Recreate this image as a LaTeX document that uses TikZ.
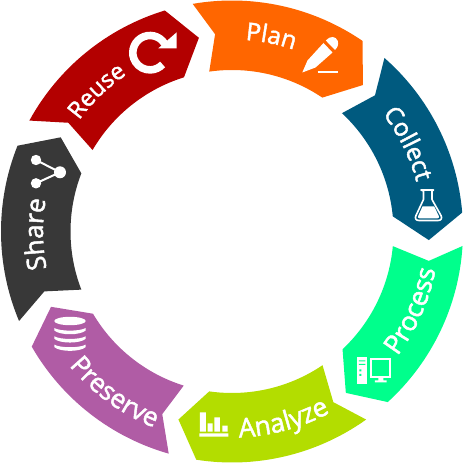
\documentclass[tikz,border=0pt]{standalone}
\usepackage{fontspec}
\setmainfont{Open Sans}
\newfontfamily\labfam[FakeBold=1.8]{Open Sans}
\usetikzlibrary{decorations.text}
\definecolor{cplan}{HTML}{FF6600}
\definecolor{ccollect}{HTML}{005A7F}
\definecolor{cprocess}{HTML}{00FF8C}
\definecolor{canalyze}{HTML}{B3DD00}
\definecolor{cpreserve}{HTML}{B05CA5}
\definecolor{cshare}{HTML}{383838}
\definecolor{creuse}{HTML}{B30000}
\newcommand{\segm}[9]{\fill[#1] (#2:231) arc[start angle=#2,end angle=#6,radius=231]
  -- (#7:#8) -- (#9:161.5) arc[start angle=#9,end angle=#5,radius=161.5]
  -- (#3:#4) -- cycle;}
\newcommand{\arctext}[5]{\path[decorate,decoration={text along path,text={|\labfam\fontsize{#5}{#5}\selectfont\color{white}|#4}}]
  (#1:#3) arc[start angle=#1,end angle=#2,radius=#3];}
\tikzset{
  icon/.style={white,line width=1.6pt},
  iconfill/.style={fill=white,draw=none}
}
\begin{document}
\begin{tikzpicture}[x=1pt,y=1pt]
\useasboundingbox (-232,-231.5) rectangle (232,231.5);
% segments: colour, outer start, notch angle, notch r, inner start, outer end, tip angle, tip r, inner end
\segm{cplan}{99.8}{94.9}{198}{98.1}{55.6}{48.2}{196.5}{56}
\segm{ccollect}{48.7}{43.6}{197.5}{47.1}{4.7}{-2.5}{197}{5.4}
\segm{cprocess}{-3.6}{-8.5}{199}{-5.2}{-47.6}{-54.8}{197.5}{-46.8}
\segm{canalyze}{-54.5}{-59.3}{198.5}{-55.9}{-98.9}{-105.9}{195.5}{-98.1}
\segm{cpreserve}{-105.9}{-110.9}{195.5}{-107.4}{-150.1}{-157.4}{196}{-149.4}
\segm{cshare}{-157.2}{-162.3}{197}{-158.9}{-201.8}{-208.8}{195.5}{-201.1}
\segm{creuse}{151.3}{146.4}{196.5}{149.7}{106.9}{99.7}{196.5}{107.3}
% labels
\arctext{86}{55}{192}{Plan}{24.5}
\arctext{144}{105}{189}{Reuse}{23.5}
\arctext{38}{0}{191}{Collect}{24.5}
\arctext{191.4}{155}{189}{Share}{26}
\arctext{-37}{5}{207}{Process}{26.5}
\arctext{-88}{-45}{206}{Analyze}{26.5}
\arctext{-140.5}{-95}{211}{Preserve}{26}
% icons, in pixel coordinates of the reference
\begin{scope}[shift={(-232,231.5)},yscale=-1]
  % pencil
  \fill[white] (302.3,72.5) -- (307.5,60.5) -- (323.5,43) -- (332.5,52.5) -- (315.5,67.5) -- cycle;
  \fill[white] (325.8,40.5) .. controls (330,35.5) and (336,36) .. (337.8,41) .. controls (338.8,44.5) and (337.5,47.5) .. (335,50) -- cycle;
  \draw[icon] (317.7,72) -- (338.3,72);
  % flask
  \draw[icon,line join=round] (421,190) -- (433.5,190) -- (432,191) -- (432,199.5)
     -- (441,215.5) .. controls (442.5,218.5) and (441,220.5) .. (438,220.5) -- (419,220.5)
     .. controls (416,220.5) and (414.5,218.5) .. (416,215.5) -- (423.5,199.5) -- (423.5,191) -- cycle;
  \fill[white] (422.5,206.5) -- (434.2,206.5) -- (438.8,216) .. controls (439.3,217.5) and (438.8,218.3) .. (437.5,218.3) -- (419.5,218.3)
     .. controls (418.2,218.3) and (417.7,217.5) .. (418.2,216) -- cycle;
  % computer
  \fill[white] (357.3,356.7) rectangle (366.7,384.3);
  \fill[cprocess] (359,360.5) rectangle (365.3,361.5) (359,363.8) rectangle (365.3,364.8)
     (359.5,369.5) rectangle (361.5,371.5) (359.5,373.8) rectangle (361.5,375.8);
  \draw[icon] (370.8,359) rectangle (390,376.8);
  \fill[white] (378.5,377) rectangle (383.5,380.5) (375,380.3) rectangle (386.7,382.5);
  % chart
  \fill[white] (200,412.3) rectangle (206,431.7) (207.7,423.3) rectangle (212.7,431.7)
     (214.3,417.3) rectangle (220,431.7) (222.3,425.7) rectangle (227.7,431.7)
     (199.3,433.3) rectangle (228.3,436.7);
  % reload
  \draw[white,line width=7.6pt] (150,52.7) ++(-32:17.2) arc[start angle=-32,end angle=-317,radius=17.2];
  \fill[white] (176.7,32.3) -- (176.7,48.3) -- (158.3,48.3) -- cycle;
  % share
  \draw[white,line width=2pt] (36,160) -- (60,172.3) -- (36,183.3);
  \fill[white] (36,160) circle[radius=5.2] (36,183.3) circle[radius=5.2] (60,172.3) circle[radius=6];
  % database
  \fill[white] (70,321) ellipse[x radius=15.7,y radius=4.2];
  \foreach \yy in {328,336.3,344.6}{
    \fill[white] (54.3,\yy) .. controls (60,\yy+3.5) and (80,\yy+3.5) .. (85.7,\yy)
      -- (85.7,\yy+2.5) .. controls (80,\yy+7.5) and (60,\yy+7.5) .. (54.3,\yy+2.5) -- cycle;
  }
\end{scope}
\end{tikzpicture}
\end{document}
